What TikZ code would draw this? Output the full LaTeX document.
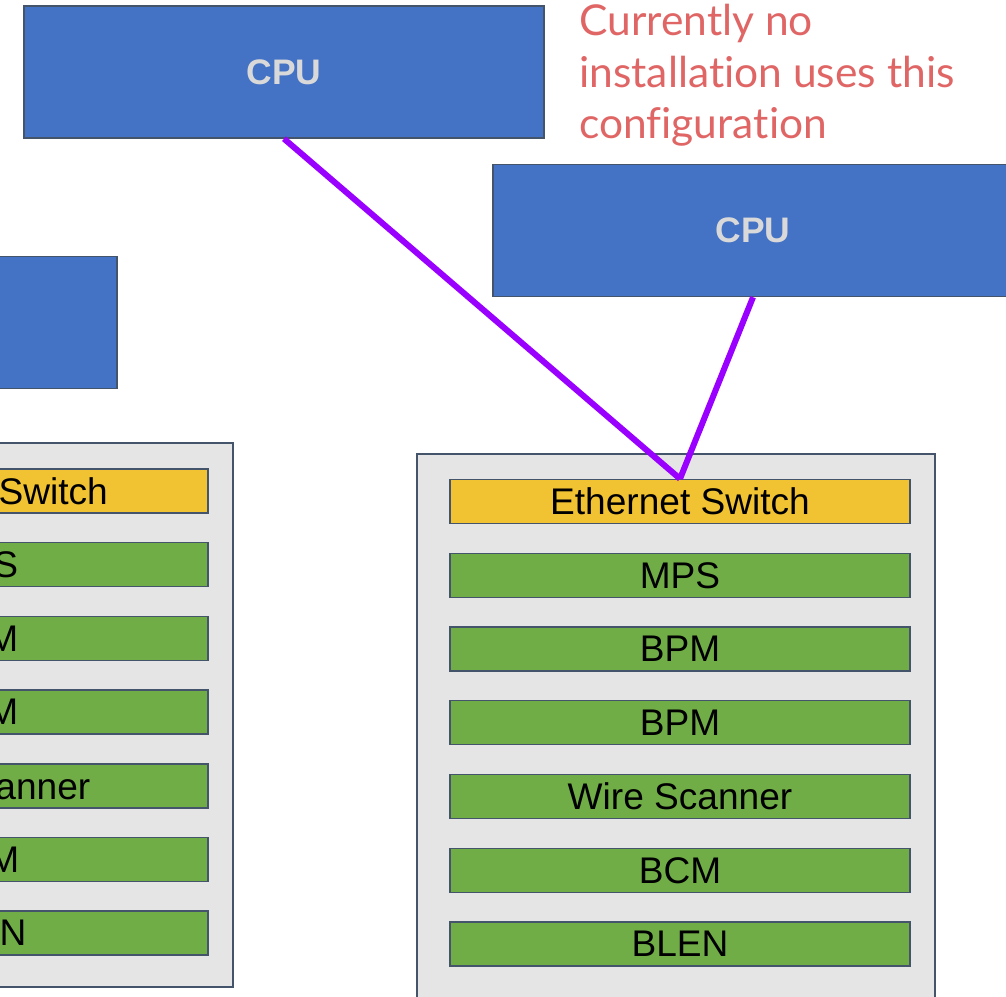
\documentclass[tikz,border=0pt]{standalone}
\usepackage{fontspec}
\setmainfont{Liberation Sans}
\newfontfamily\notefont[Ligatures=NoCommon]{Lato}
\usepackage{tikz}
\usetikzlibrary{positioning}
\definecolor{cpublue}{RGB}{68,114,196}
\definecolor{slate}{RGB}{68,84,106}
\definecolor{crategray}{RGB}{229,229,229}
\definecolor{modgreen}{RGB}{112,173,71}
\definecolor{switchyellow}{RGB}{241,194,50}
\definecolor{cputext}{RGB}{217,217,217}
\definecolor{notered}{RGB}{224,102,102}
\definecolor{linkpurple}{RGB}{153,0,255}
\tikzset{
  cpubox/.style={rectangle, draw=slate, fill=cpublue, line width=1.1pt,
    minimum width=390pt, minimum height=99pt, inner sep=0pt,
    font=\fontsize{26.6}{30}\selectfont\bfseries, text=cputext},
  cratebox/.style={rectangle, draw=slate, fill=crategray, line width=1.1pt,
    minimum width=388.5pt, minimum height=408pt},
  module/.style={rectangle, draw=slate, fill=modgreen, line width=1.1pt,
    minimum width=345pt, minimum height=33pt, inner sep=0pt,
    font=\fontsize{27.8}{30}\selectfont},
  switch/.style={module, fill=switchyellow},
  link/.style={line width=4.5pt, color=linkpurple}
}
\begin{document}
\begin{tikzpicture}[x=0.75pt, y=-0.75pt]
  \useasboundingbox (0,0) rectangle (1006,996);
  \clip (0,0) rectangle (1006,996);

  % CPUs
  \node[cpubox] (cpuA) at (284,72)    {CPU};
  \node[cpubox] (cpuB) at (753,230.5) {CPU};
  \node[cpubox] (cpuC) at (-143,322.5) {CPU};

  % crates
  \node[cratebox] (crateL) at (-26,715) {};
  \node[cratebox] (crateR) at (676,726) {};

  % left crate modules
  \node[switch] (l1) at (-22,491) {Ethernet Switch};
  \foreach \lbl [count=\i from 2] in {MPS,BPM,BPM,Wire Scanner,BCM,BLEN}
    \node[module] (l\i) at (-22,{491+73.7*(\i-1)}) {\lbl};

  % right crate modules
  \node[switch] (r1) at (680,501.5) {Ethernet Switch};
  \foreach \lbl [count=\i from 2] in {MPS,BPM,BPM,Wire Scanner,BCM,BLEN}
    \node[module] (r\i) at (680,{501.5+73.75*(\i-1)}) {\lbl};

  % links
  \draw[link] (cpuA.south) -- (r1.north);
  \draw[link] (cpuB.south) -- (r1.north);

  % note
  \node[anchor=north west, inner sep=0pt, align=left, text=notered,
    font=\notefont\fontsize{31.9}{38.6}\selectfont] (note) at (579,4)
    {Currently no\\installation uses this\\configuration};
\end{tikzpicture}
\end{document}
